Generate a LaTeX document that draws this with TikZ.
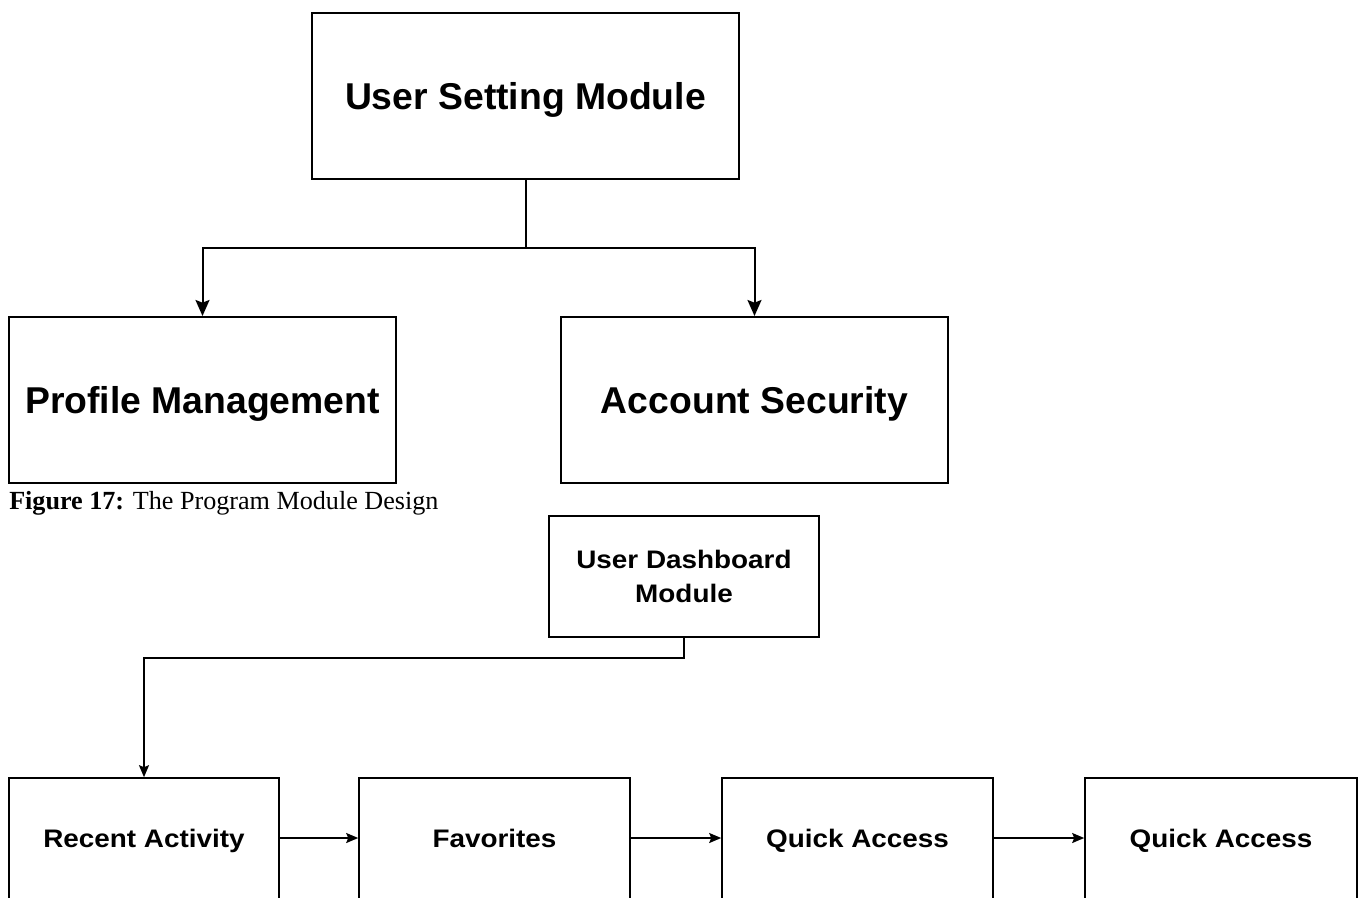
\documentclass[tikz,border=0pt]{standalone}
\usepackage{fontspec}
\setmainfont{Liberation Serif}
\newfontfamily\boxfont{Liberation Sans}
\newfontfamily\smallboxfont{Liberation Sans}[FakeStretch=1.1]
\usetikzlibrary{arrows.meta}
\tikzset{
  bigbox/.style={draw, line width=1.5pt, inner sep=0pt, text height=20pt, text depth=0pt,
    font=\boxfont\bfseries\fontsize{28}{34}\selectfont},
  smallbox/.style={draw, line width=1.2pt, inner sep=0pt, align=center, text height=13.6pt, text depth=0pt,
    font=\smallboxfont\bfseries\fontsize{19}{25.5}\selectfont},
  twolinebox/.style={smallbox, text height=39.1pt},
  cutbox/.style={smallbox, text depth=15pt},
  bigconn/.style={line width=1.5pt, -{Stealth[length=12pt,width=10.5pt,inset=2pt]}},
  smallconn/.style={line width=1.2pt, -{Stealth[length=9pt,width=7.5pt,inset=1.5pt]}},
  plainconn/.style={line width=1.5pt}
}
\begin{document}
\begin{tikzpicture}[x=0.75pt,y=-0.75pt]
\useasboundingbox (0,0) rectangle (1361,897);
\clip (0,0) rectangle (1361,897);
\fill[white] (0,0) rectangle (1361,897);
% top part
\node[bigbox, minimum width=320.25pt, minimum height=124.5pt] (usm) at (525.5,96) {User Setting Module};
\node[bigbox, minimum width=290.25pt, minimum height=124.5pt] (pm) at (202.5,400) {Profile Management};
\node[bigbox, minimum width=290.25pt, minimum height=124.5pt] (as) at (754.5,400) {Account Security};
\draw[plainconn] (usm.south) -- ++(0,68) coordinate (j);
\draw[bigconn] (j) -| (pm.north);
\draw[bigconn] (j) -| (as.north);
% caption
\node[anchor=base west, inner sep=0pt, font=\fontsize{19.6}{24}\selectfont] (cap) at (9,509) {\textbf{Figure 17:} The Program Module Design};
% bottom part
\node[twolinebox, minimum width=202.5pt, minimum height=90.75pt] (udm) at (684,576.5) {User Dashboard\\Module};
\node[cutbox, minimum width=202.5pt, minimum height=105pt] (ra) at (144,848) {Recent Activity};
\node[cutbox, minimum width=203.25pt, minimum height=105pt] (fav) at (494.5,848) {Favorites};
\node[cutbox, minimum width=203.25pt, minimum height=105pt] (qa1) at (857.5,848) {Quick Access};
\node[cutbox, minimum width=204pt, minimum height=105pt] (qa2) at (1221,848) {Quick Access};
\draw[smallconn] (udm.south) -- ++(0,20) -| (ra.north);
\draw[smallconn] (ra.east |- 0,838) -- (fav.west |- 0,838);
\draw[smallconn] (fav.east |- 0,838) -- (qa1.west |- 0,838);
\draw[smallconn] (qa1.east |- 0,838) -- (qa2.west |- 0,838);
\end{tikzpicture}
\end{document}
